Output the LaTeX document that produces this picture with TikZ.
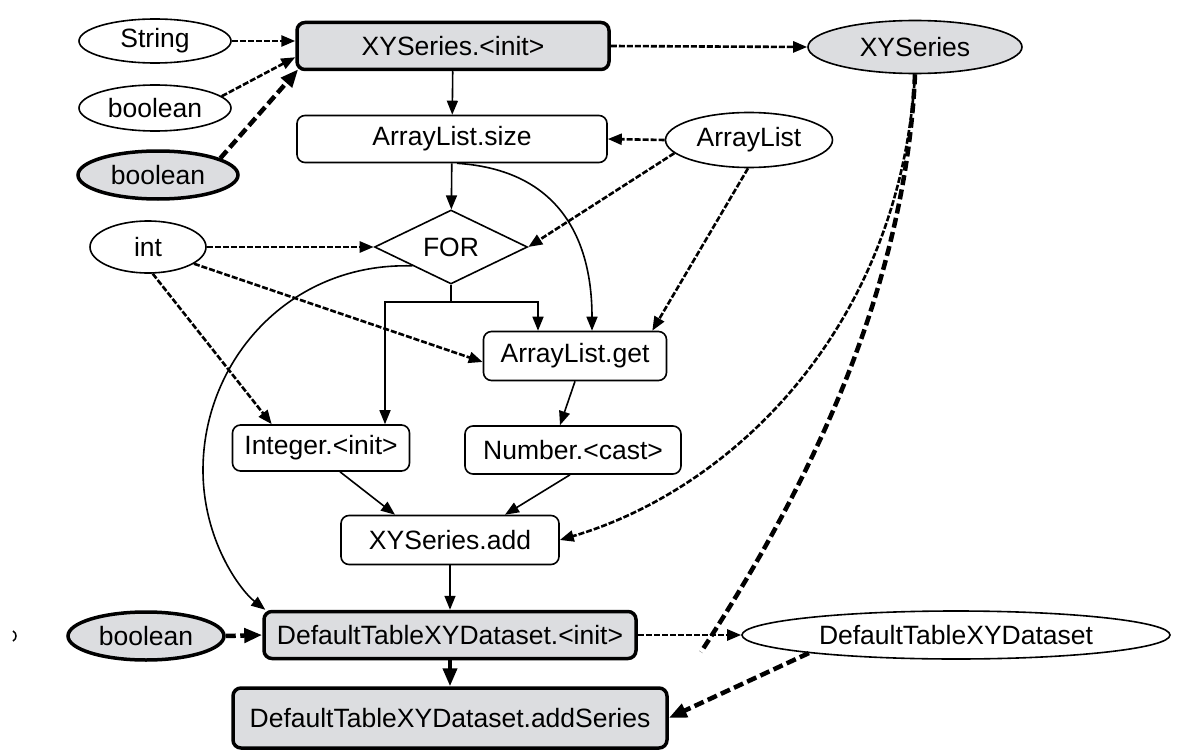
\documentclass[tikz,border=0pt]{standalone}
\usepackage{fontspec}
\setmainfont{Liberation Sans}
\usetikzlibrary{shapes.geometric,arrows.meta,calc}
\definecolor{keyfill}{RGB}{220,221,224}

\begin{document}
\begin{tikzpicture}[x=1pt,y=-1pt,
  font=\fontsize{26.5}{31}\selectfont,
  box/.style={draw, rounded corners=8pt, line width=1.6pt, inner sep=0pt, minimum height=47pt},
  keybox/.style={box, fill=keyfill, line width=3.5pt},
  typ/.style={draw, ellipse, line width=1.6pt, inner sep=0pt},
  greytyp/.style={typ, fill=keyfill},
  keytyp/.style={typ, fill=keyfill, line width=3.5pt},
  flow/.style={line width=1.6pt, -{Triangle[length=14pt,width=11pt]}},
  dep/.style={line width=2.6pt, dash pattern=on 6pt off 2pt, -{Triangle[length=14pt,width=11pt]}},
  keydep/.style={line width=4.5pt, dash pattern=on 10pt off 4.5pt, -{Triangle[length=18pt,width=14pt]}},
  keyline/.style={line width=4.5pt, dash pattern=on 10pt off 4.5pt},
  keyflow/.style={line width=4pt, -{Triangle[length=18pt,width=14pt]}},
]
\useasboundingbox (0,0) rectangle (1192,752);

% inputs of the constructor
\node[typ, minimum width=152pt, minimum height=44pt] (str) at (155,41) {String};
\node[typ, minimum width=152pt, minimum height=46pt] (boolA) at (155,108) {boolean};
\node[keytyp, minimum width=160pt, minimum height=48pt] (boolB) at (158,175) {boolean};

% method calls
\node[keybox, minimum width=312pt] (xyinit) at (453,46) {XYSeries.<init>};
\node[greytyp, minimum width=214pt, minimum height=53pt] (xys) at (915,47) {XYSeries};
\node[box, minimum width=310pt] (alsize) at (452,139) {ArrayList.size};
\node[typ, minimum width=167pt, minimum height=55pt] (al) at (749,140) {ArrayList};
\node[draw, diamond, aspect=2, line width=1.6pt, inner sep=0pt,
      minimum width=153pt, minimum height=74pt] (for) at (451,247) {FOR};
\node[typ, minimum width=116pt, minimum height=52pt] (int) at (148,247) {int};
\node[box, minimum width=183pt, minimum height=49pt] (alget) at (575,356) {ArrayList.get};
\node[box, minimum width=177pt, minimum height=46pt] (intinit) at (321,448) {Integer.<init>};
\node[box, minimum width=216pt, minimum height=48pt] (numcast) at (573,450) {Number.<cast>};
\node[box, minimum width=218pt, minimum height=49pt] (xyadd) at (450,540) {XYSeries.add};
\node[keybox, minimum width=372pt] (dtinit) at (450,635) {DefaultTableXYDataset.<init>};
\node[keybox, minimum width=434pt, minimum height=60pt] (addser) at (450,718) {DefaultTableXYDataset.addSeries};
\node[keytyp, minimum width=156pt, minimum height=48pt] (boolC) at (146,636) {boolean};
\node[typ, minimum width=428pt, minimum height=48pt] (dtxy) at (956,635) {DefaultTableXYDataset};
\coordinate (loose) at (701,652);

% small stroke at the left margin
\draw[line width=1.5pt] (13,631) .. controls (17,633) and (17,639) .. (13,641);

% data dependencies into the constructor
\draw[dep] (str.east) -- (str.east -| xyinit.west);
\draw[dep] (boolA.10) -- ($(xyinit.south west)+(0,-14)$);
\draw[keydep] (boolB.15) -- ($(xyinit.south west)+(3,-2)$);
\draw[dep] (xyinit.east) -- (xys.west);

% control flow
\draw[flow] (xyinit) -- (alsize);
\draw[flow] (alsize) -- (for);
\draw[flow] ($(alsize.south)+(5,0)$) .. controls (560,170) and (592,240) .. ($(alget.north)+(17,0)$);
\draw[line width=1.6pt] (for.south) -- ++(0,17) coordinate (fork);
\draw[flow] (fork) -| ($(intinit.north)+(64,0)$);
\draw[flow] (fork) -| ($(alget.north)+(-37,0)$);
\draw[flow] ($(for.west)!0.5!(for.south)$) .. controls (290,262) and (203,360) .. (203,470)
            .. controls (203,540) and (240,590) .. ($(dtinit.north west)+(3,0)$);
\draw[flow] (alget.south) -- ($(numcast.north)+(-13,0)$);
\draw[flow] ($(intinit.south)+(19,0)$) -- ($(xyadd.north)+(-55,0)$);
\draw[flow] ($(numcast.south)+(-3,0)$) -- ($(xyadd.north)+(55,0)$);
\draw[flow] (xyadd) -- (dtinit);
\draw[keyflow] (dtinit) -- (addser);

% data dependencies
\draw[dep] (al.west) -- (alsize.east);
\draw[dep] (al.190) -- (for.east);
\draw[dep] (al.268) -- ($(alget.north east)+(-15,0)$);
\draw[dep] (int.east) -- (for.west);
\draw[dep] (int.-20) -- ($(alget.west)+(0,6)$);
\draw[dep] (int.-80) -- ($(intinit.north west)+(40,0)$);
\draw[dep] (xys.south) .. controls (900,330) and (730,490) .. (xyadd.east);
\draw[keyline] (xys.south) .. controls (905,300) and (800,500) .. (loose);
\draw[dep] (dtinit.east) -- (dtxy.west);
\draw[keydep] (boolC.east) -- (dtinit.west);
\draw[keydep] (dtxy.-173) -- (addser.east);
\end{tikzpicture}
\end{document}
